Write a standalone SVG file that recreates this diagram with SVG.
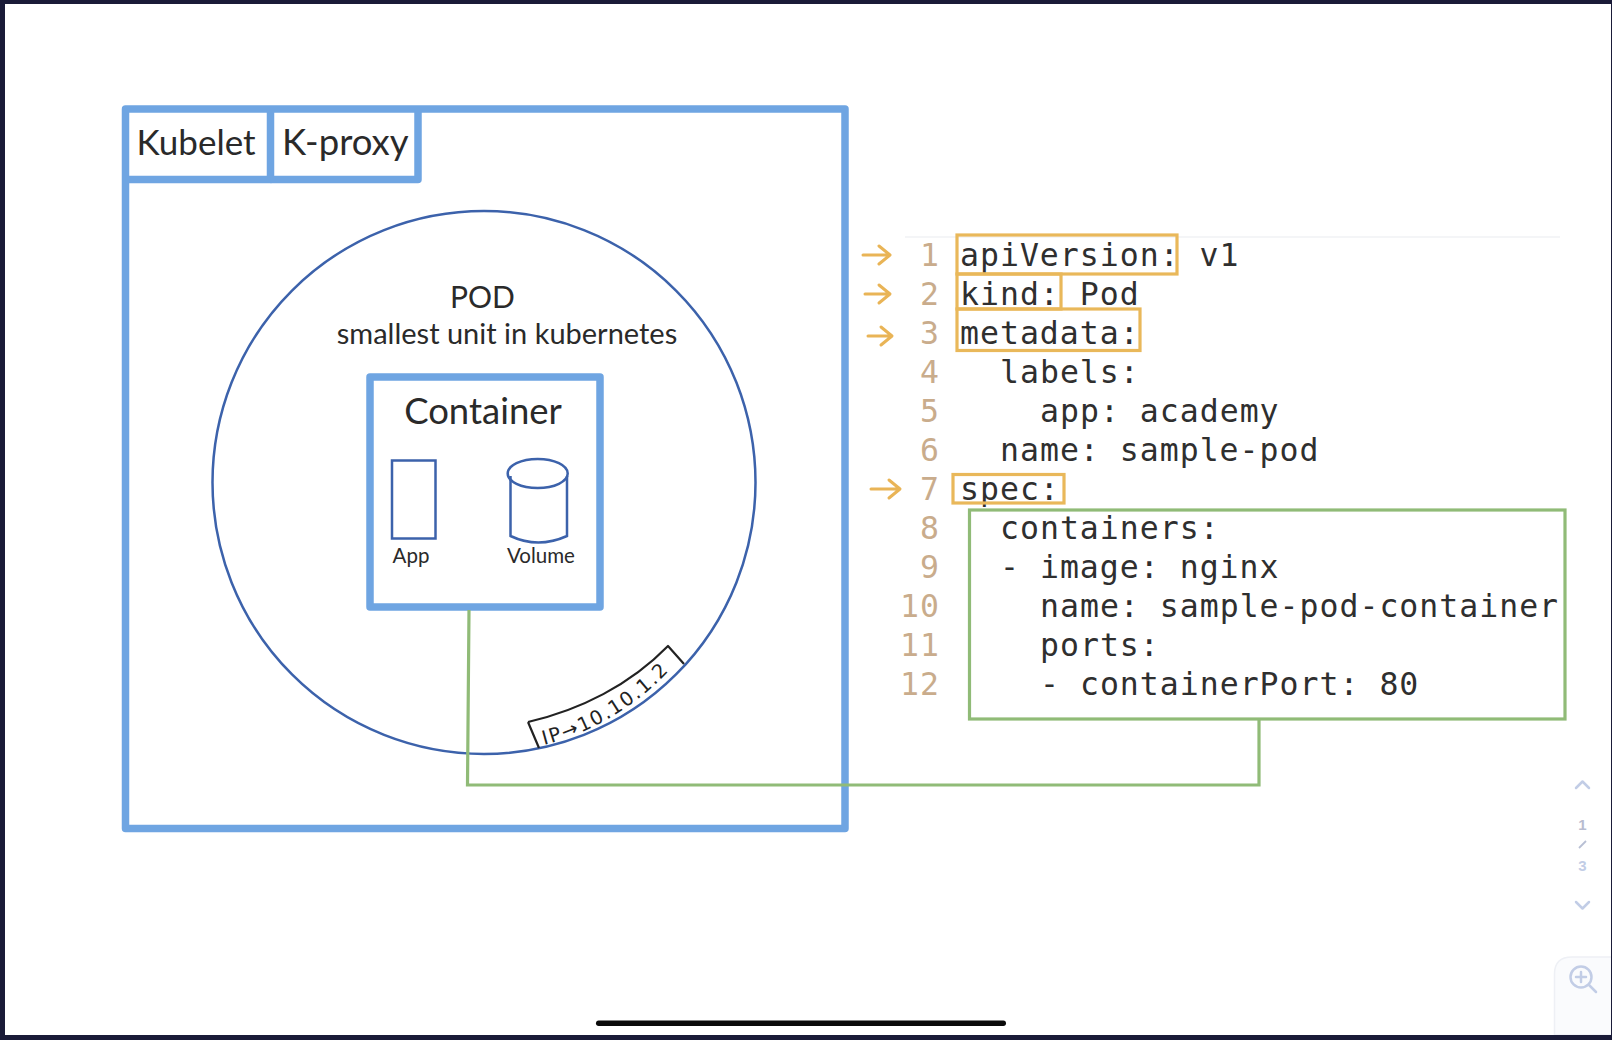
<svg xmlns="http://www.w3.org/2000/svg" width="1612" height="1040" viewBox="0 0 1612 1040">
<style>
.blue{fill:none;stroke:#6fa5e2;stroke-width:7.5;stroke-linejoin:round}
.thin{fill:none;stroke:#3c62ab;stroke-width:2.5}
.green{fill:none;stroke:#90bb77;stroke-width:3.2}
.orange{fill:none;stroke:#e9b85a;stroke-width:3.2}
.arrow{fill:none;stroke:#e9b456;stroke-width:3;stroke-linecap:round;stroke-linejoin:round}
.sans{font-family:"Lato","Open Sans",sans-serif;fill:#2a2a2a}
.code{font-family:"DejaVu Sans Mono","Liberation Mono",monospace;font-size:31.500px;letter-spacing:1px;fill:#2f2f2f}
.num{font-family:"DejaVu Sans Mono","Liberation Mono",monospace;font-size:31.500px;letter-spacing:1px;fill:#c9ac8c;text-anchor:end}
.ui{fill:none;stroke:#c2cde6;stroke-width:2.5;stroke-linecap:round;stroke-linejoin:round}
</style>
<defs>
<path id="ipcurve" d="M544 745 A262 262 0 0 0 682 656"/>
</defs>
<rect width="1612" height="1040" fill="#fff"/>
<g id="frame" fill="#1a1b38">
<rect x="0" y="0" width="1612" height="4"/>
<rect x="0" y="0" width="5" height="1040"/>
<rect x="0" y="1035" width="1612" height="5"/>
<rect x="1611" y="0" width="1" height="1040"/>
</g>
<rect id="home-indicator" x="596" y="1020.500" width="410" height="5.500" rx="2.700" fill="#0a0a0a"/>

<g id="node">
<rect class="blue" x="125.500" y="109" width="719.500" height="719.500"/>
</g>
<g id="kubelet">
<path class="blue" d="M125.500 179.500H270.500V109"/>
<text class="sans" x="136.500" y="155" font-size="35">Kubelet</text>
</g>
<g id="k-proxy">
<path class="blue" d="M270.500 179.500H418V109"/>
<text class="sans" x="282" y="155" font-size="36.500">K-proxy</text>
</g>

<g id="pod">
<circle class="thin" cx="484" cy="482.500" r="271.500"/>
<text class="sans" x="482.500" y="307.500" font-size="30" text-anchor="middle">POD</text>
<text class="sans" x="507" y="343.500" font-size="29" text-anchor="middle">smallest unit in kubernetes</text>
</g>

<g id="container">
<rect class="blue" x="370" y="377" width="230" height="230"/>
<text class="sans" x="483" y="424" font-size="36.500" text-anchor="middle">Container</text>
</g>
<g id="app">
<rect class="thin" x="392" y="460.500" width="43.500" height="78"/>
<text class="sans" x="411" y="563" font-size="20.500" text-anchor="middle" fill="#555">App</text>
</g>
<g id="volume">
<path class="thin" d="M510.500 476V536Q538 549 567 536V476" stroke-width="3"/>
<ellipse class="thin" cx="537.700" cy="473.500" rx="30" ry="14.500"/>
<text class="sans" x="541" y="563" font-size="20.500" text-anchor="middle" fill="#555">Volume</text>
</g>
<g id="ip-label">
<path d="M528 722 L539 748 M528 722 C580 710 630 685 668 646 L684 664" fill="none" stroke="#222" stroke-width="2.200" stroke-linejoin="round"/>
<text font-family="'DejaVu Sans',sans-serif" font-size="19.500" letter-spacing="1.800" fill="#222"><textPath href="#ipcurve">IP→10.10.1.2</textPath></text>
</g>

<g id="connectors">
<path class="green" d="M469 610L467.500 785H1259V719"/>
</g>

<g id="code">
<line x1="905" y1="237" x2="1560" y2="237" stroke="#f1f2f4" stroke-width="1.500"/>
<text class="num" x="940" y="265.500">1</text>
<text class="num" x="940" y="304.500">2</text>
<text class="num" x="940" y="343.500">3</text>
<text class="num" x="940" y="382.500">4</text>
<text class="num" x="940" y="421.500">5</text>
<text class="num" x="940" y="460.500">6</text>
<text class="num" x="940" y="499.500">7</text>
<text class="num" x="940" y="538.500">8</text>
<text class="num" x="940" y="577.500">9</text>
<text class="num" x="940" y="616.500">10</text>
<text class="num" x="940" y="655.500">11</text>
<text class="num" x="940" y="694.500">12</text>
<text class="code" x="960" y="265.500">apiVersion: v1</text>
<text class="code" x="960" y="304.500">kind: Pod</text>
<text class="code" x="960" y="343.500">metadata:</text>
<text class="code" x="1000" y="382.500">labels:</text>
<text class="code" x="1040" y="421.500">app: academy</text>
<text class="code" x="1000" y="460.500">name: sample-pod</text>
<text class="code" x="960" y="499.500">spec:</text>
<text class="code" x="1000" y="538.500">containers:</text>
<text class="code" x="1000" y="577.500">- image: nginx</text>
<text class="code" x="1040" y="616.500">name: sample-pod-container</text>
<text class="code" x="1040" y="655.500">ports:</text>
<text class="code" x="1040" y="694.500">- containerPort: 80</text>
</g>

<g id="apiversion-highlight"><rect class="orange" x="957" y="235" width="220" height="39"/></g>
<g id="kind-highlight"><rect class="orange" x="957" y="274" width="104" height="35"/></g>
<g id="metadata-highlight"><rect class="orange" x="957" y="309" width="183" height="41.500"/></g>
<g id="spec-highlight"><rect class="orange" x="953" y="474.500" width="111" height="28.500"/></g>
<g id="spec-body"><rect class="green" x="969.500" y="510" width="595.500" height="209"/></g>

<g id="arrows">
<path class="arrow" d="M863 255H889M879 246L890 255L879 264"/>
<path class="arrow" d="M865 294H889M879 285L890 294L879 303"/>
<path class="arrow" d="M868 336H891M881 327L892 336L881 345"/>
<path class="arrow" d="M871 489H899M889 480L900 489L889 498"/>
</g>

<g id="pager">
<path class="ui" d="M1576 788L1582.500 781.500L1589 788"/>
<text x="1582.500" y="830" font-family="'Liberation Sans',sans-serif" font-size="15" font-weight="bold" fill="#b8bcd0" text-anchor="middle">1</text>
<line x1="1579" y1="848" x2="1586" y2="841" stroke="#b8bfd4" stroke-width="1.800"/>
<text x="1582.500" y="871" font-family="'Liberation Sans',sans-serif" font-size="15" font-weight="bold" fill="#c2cde6" text-anchor="middle">3</text>
<path class="ui" d="M1576 902L1582.500 908.500L1589 902"/>
</g>
<g id="zoom-panel">
<path d="M1612 957H1572Q1554.500 957 1554.500 974V1035H1612Z" fill="#fafbfd" stroke="#eef0f5" stroke-width="1.500"/>
<circle class="ui" cx="1581" cy="977" r="10.500"/>
<path class="ui" d="M1589 985L1596 992M1581 972V982M1576 977H1586"/>
</g>
<rect x="1611" y="950" width="1" height="90" fill="#1a1b38"/>
<rect x="0" y="1035" width="1612" height="5" fill="#1a1b38"/>
</svg>
